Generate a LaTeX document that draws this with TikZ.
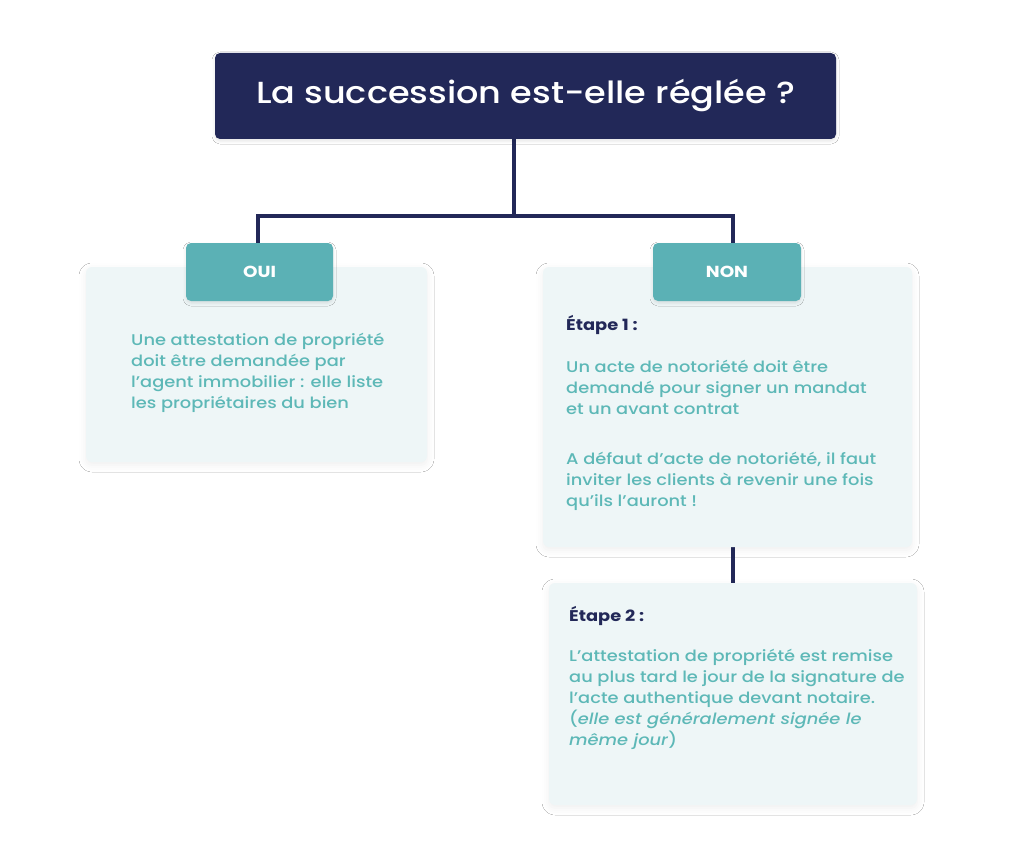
\documentclass[tikz,border=0pt]{standalone}
\usepackage{fontspec}
\setmainfont{Poppins}[UprightFont={* Medium}, BoldFont={* Bold}, ItalicFont={* Medium Italic}, BoldItalicFont={* Bold Italic}, FakeStretch=1.15]
\usetikzlibrary{shadows.blur,backgrounds}
\definecolor{navyc}{HTML}{222858}
\definecolor{tabc}{HTML}{5BB1B5}
\definecolor{cardc}{HTML}{EEF6F7}
\definecolor{bodyc}{HTML}{5DB8B7}
\tikzset{
  card/.style={fill=cardc, rounded corners=6pt, inner sep=0, blur shadow={shadow xshift=0pt, shadow yshift=-3pt, shadow blur radius=7pt, shadow opacity=6}},
  tab/.style={fill=tabc, rounded corners=5pt, inner sep=0, text=white, font=\fontsize{16}{18}\selectfont\bfseries, blur shadow={shadow xshift=0pt, shadow yshift=-2pt, shadow blur radius=3pt, shadow opacity=10}},
  titlebox/.style={fill=navyc, rounded corners=5pt, inner sep=0, text=white, font=\fontsize{30.5}{36}\selectfont, blur shadow={shadow xshift=0pt, shadow yshift=-2pt, shadow blur radius=3pt, shadow opacity=10}},
  body/.style={text=bodyc, align=left, inner sep=0, font=\fontsize{15.5}{21}\selectfont},
  steplabel/.style={text=navyc, align=left, inner sep=0, font=\fontsize{15.5}{21}\selectfont\bfseries},
  conn/.style={draw=navyc, line width=3.5pt}
}
\begin{document}
\begin{tikzpicture}[x=1pt,y=-1pt]
\useasboundingbox (0,0) rectangle (1024,842);
% cards
\node[card, minimum width=341pt, minimum height=195pt] (cardL) at (256.5,364.5) {};
\node[card, minimum width=369pt, minimum height=280pt] (cardR) at (727.5,407) {};
\node[card, minimum width=368pt, minimum height=222pt] (cardS) at (733,694) {};
% title and tabs
\node[titlebox, minimum width=621pt, minimum height=86pt] (title) at (525.5,96) {La succession est-elle réglée ?};
\node[tab, minimum width=147pt, minimum height=58pt] (oui) at (259.5,272) {OUI};
\node[tab, minimum width=148pt, minimum height=58pt] (non) at (727,272) {NON};
% connectors
\coordinate (split) at (514,216);
\coordinate (splitL) at (258,216);
\coordinate (splitR) at (733,216);
\begin{pgfonlayer}{background}
\fill[white] (0,0) rectangle (1024,842);
\draw[conn] (title.south -| split) -- (split);
\draw[conn, line cap=rect] (splitL) -- (splitR);
\draw[conn] (splitL) -- (oui.north -| splitL);
\draw[conn] (splitR) -- (non.north -| splitR);
\draw[conn] (cardR.south -| splitR) -- (cardS.north -| splitR);
\end{pgfonlayer}
% texts
\node[body, anchor=north west] (t1) at (131,333) {Une attestation de propriété\\doit être demandée par\\l’agent immobilier : elle liste\\les propriétaires du bien};
\node[steplabel, anchor=north west] (e1) at (566,315) {Étape 1 :};
\node[body, anchor=north west] (t2) at (566,360) {Un acte de notoriété doit être\\demandé pour signer un mandat\\et un avant contrat};
\node[body, anchor=north west] (t3) at (566,452) {A défaut d’acte de notoriété, il faut\\inviter les clients à revenir une fois\\qu’ils l’auront !};
\node[steplabel, anchor=north west] (e2) at (569,606) {Étape 2 :};
\node[body, anchor=north west] (t4) at (569,649) {L’attestation de propriété est remise\\au plus tard le jour de la signature de\\l’acte authentique devant notaire.\\(\textit{elle est généralement signée le}\\\textit{même jour})};
\end{tikzpicture}
\end{document}
